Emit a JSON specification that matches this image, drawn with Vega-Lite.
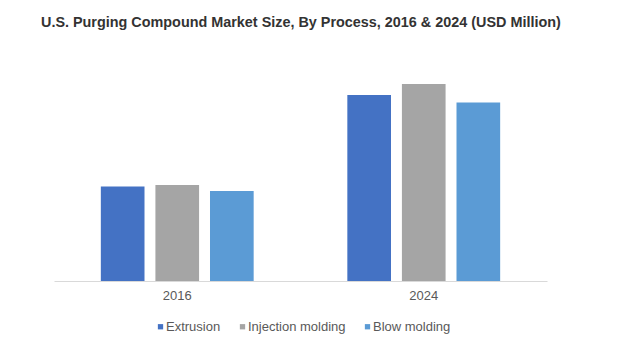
{
  "$schema": "https://vega.github.io/schema/vega-lite/v6.json",
  "width": 493,
  "height": 221,
  "autosize": {"type": "none"},
  "padding": {"left": 54, "top": 60, "right": 73, "bottom": 82},
  "background": "white",
  "title": {
    "text": "U.S. Purging Compound Market Size, By Process, 2016 & 2024 (USD Million)",
    "anchor": "start",
    "frame": "group",
    "dx": -13,
    "dy": 13,
    "offset": 32,
    "baseline": "alphabetic",
    "font": "Liberation Sans",
    "fontSize": 14.4,
    "fontWeight": "bold",
    "color": "#333333"
  },
  "data": {
    "values": [
      {"year": "2016", "process": "Extrusion", "value": 94.5},
      {"year": "2016", "process": "Injection molding", "value": 96},
      {"year": "2016", "process": "Blow molding", "value": 90},
      {"year": "2024", "process": "Extrusion", "value": 186},
      {"year": "2024", "process": "Injection molding", "value": 197},
      {"year": "2024", "process": "Blow molding", "value": 178.5}
    ]
  },
  "mark": {"type": "bar"},
  "encoding": {
    "x": {
      "field": "year",
      "type": "nominal",
      "scale": {"paddingInner": 0.38, "paddingOuter": 0.19},
      "axis": {
        "title": null,
        "labelAngle": 0,
        "ticks": false,
        "domainColor": "#d9d9d9",
        "labelColor": "#595959",
        "labelFont": "Liberation Sans",
        "labelFontSize": 13,
        "labelPadding": 8
      }
    },
    "xOffset": {
      "field": "process",
      "type": "nominal",
      "sort": ["Extrusion", "Injection molding", "Blow molding"],
      "scale": {"paddingInner": 0.2, "paddingOuter": 0}
    },
    "y": {
      "field": "value",
      "type": "quantitative",
      "scale": {"domain": [0, 221]},
      "axis": null
    },
    "color": {
      "field": "process",
      "type": "nominal",
      "sort": ["Extrusion", "Injection molding", "Blow molding"],
      "scale": {
        "domain": ["Extrusion", "Injection molding", "Blow molding"],
        "range": ["#4472C4", "#A5A5A5", "#5B9BD5"]
      },
      "legend": {
        "title": null,
        "orient": "none",
        "direction": "horizontal",
        "legendX": 100,
        "legendY": 260,
        "symbolType": "square",
        "symbolSize": 28,
        "symbolStrokeWidth": 0,
        "labelFont": "Liberation Sans",
        "labelFontSize": 13,
        "labelColor": "#595959",
        "labelOffset": -1,
        "columnPadding": 15
      }
    }
  },
  "config": {
    "view": {"stroke": null}
  }
}
